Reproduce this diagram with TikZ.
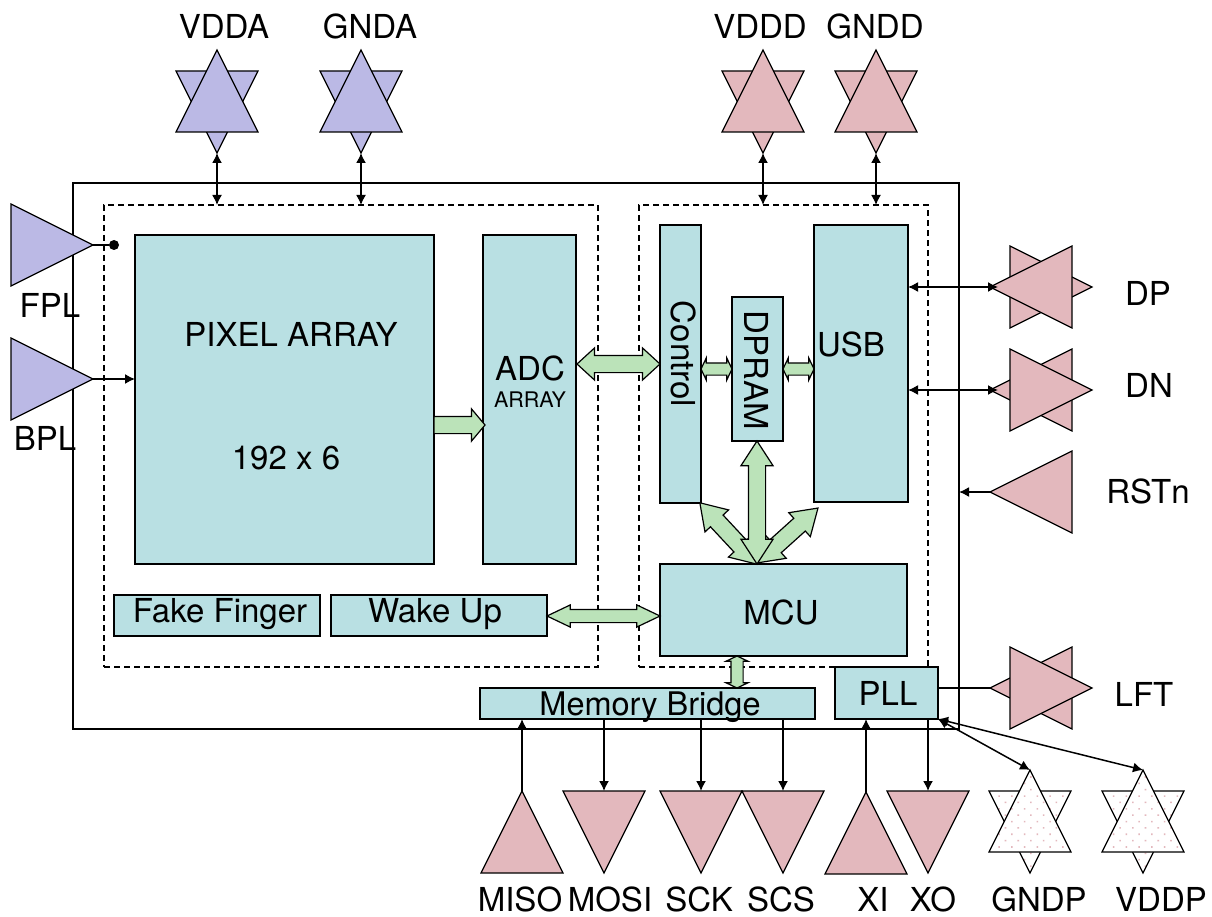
\documentclass[tikz,border=0pt]{standalone}
\usepackage{fontspec}
\setmainfont{TeX Gyre Heros}
\usetikzlibrary{arrows.meta, shapes.geometric, shapes.arrows, patterns.meta}
\definecolor{padblue}{HTML}{BBB9E5}
\definecolor{padpink}{HTML}{E3B8BD}
\definecolor{blockcyan}{HTML}{B9E0E3}
\definecolor{arrowgreen}{HTML}{BBE3B9}
\tikzset{
padup/.style={shape=isosceles triangle, isosceles triangle stretches, shape border rotate=90, minimum width=82, minimum height=82, inner sep=0, outer sep=0, draw, line width=1.2pt},
paddown/.style={padup, shape border rotate=270},
padleft/.style={padup, shape border rotate=180},
padright/.style={padup, shape border rotate=0},
dotted pad/.style={preaction={fill=white}, pattern={Dots[distance=9pt, radius=1.1pt, angle=45]}, pattern color=padpink},
block/.style={draw, fill=blockcyan, line width=1.2pt, anchor=north west, inner sep=0, outer sep=0},
dashbox/.style={draw, dash pattern=on 6pt off 4pt, line width=1.1pt, anchor=north west, inner sep=0, outer sep=0},
blockarrow/.style={shape=double arrow, draw, fill=arrowgreen, line width=1.2pt, inner xsep=0, outer sep=0},
bigarrow/.style={blockarrow, double arrow head extend=7.5, double arrow tip angle=66, inner ysep=8},
tinyarrow/.style={blockarrow, double arrow head extend=5, double arrow tip angle=129, inner ysep=5.5},
bigtext/.style={font=\fontsize{33}{33}\selectfont, inner sep=0},
thinline/.style={line width=1.5pt},
both/.style={thinline, {Latex[length=10pt,width=10pt]}-{Latex[length=10pt,width=10pt]}},
tohead/.style={thinline, -{Latex[length=10pt,width=10pt]}}
}
\begin{document}
\begin{tikzpicture}[x=1pt, y=-1pt]
\useasboundingbox (0,0) rectangle (1212,917);
% outer chip and the two dashed domains
\node[dashbox, solid, minimum width=886, minimum height=546] (chip) at (73,183) {};
\node[dashbox, minimum width=494, minimum height=462] (analog) at (104,205) {};
\node[dashbox, minimum width=289, minimum height=462] (digital) at (639,205) {};
% blocks
\node[block, minimum width=299, minimum height=329] (pixel) at (135,235) {};
\node[block, minimum width=93, minimum height=329] (adc) at (483,235) {};
\node[block, minimum width=206, minimum height=41] (fake) at (114,595) {};
\node[block, minimum width=216, minimum height=41] (wake) at (331,595) {};
\node[block, minimum width=41, minimum height=278] (control) at (660,225) {};
\node[block, minimum width=51, minimum height=144] (dpram) at (732,297) {};
\node[block, minimum width=94, minimum height=277] (usb) at (814,225) {};
\node[block, minimum width=247, minimum height=92] (mcu) at (660,564) {};
\node[block, minimum width=335, minimum height=31] (bridge) at (480,688) {};
\node[block, minimum width=103, minimum height=52] (pll) at (835,667) {};
% block texts
\node[bigtext] (pixeltxt) at (291,334) {PIXEL ARRAY};
\node[bigtext] (sizetxt) at (286,458) {192 x 6};
\node[bigtext] (adctxt) at (530,368) {ADC};
\node[inner sep=0, font=\fontsize{21.5}{22}\selectfont] (arraytxt) at (530,400) {ARRAY};
\node[bigtext] (faketxt) at (220,614) {Fake Finger};
\node[bigtext] (waketxt) at (435,614) {Wake Up};
\node[bigtext, rotate=-90] (controltxt) at (684,354) {Control};
\node[bigtext, rotate=-90] (dpramtxt) at (757,370) {DPRAM};
\node[bigtext] (usbtxt) at (851,344) {USB};
\node[bigtext] (mcutxt) at (781,612) {MCU};
\node[bigtext, font=\fontsize{32.5}{33}\selectfont] (bridgetxt) at (650,707) {Memory Bridge};
\node[bigtext] (plltxt) at (888,693) {PLL};
% wide arrows
\node[blockarrow, shape=single arrow, single arrow head extend=7.5, single arrow tip angle=100, inner ysep=8, minimum height=51, anchor=tip] (pixeladc) at (485,425) {};
\node[bigarrow, double arrow tip angle=85, minimum height=83] (adcctl) at (618.5,364) {};
\node[tinyarrow, minimum height=31] (ctldpr) at (716.5,369) {};
\node[tinyarrow, minimum height=31] (dprusb) at (798.5,369) {};
\node[bigarrow, minimum height=84, rotate=-47] (mcuctl) at (728.5,533.5) {};
\node[bigarrow, minimum height=82, rotate=42] (mcuusb) at (787.5,535.5) {};
\node[bigarrow, minimum height=123, rotate=90] (mcudpr) at (757,502.5) {};
\node[blockarrow, double arrow head extend=4.5, double arrow tip angle=51, inner ysep=6, minimum height=113] (wakemcu) at (603.5,616) {};
\node[tinyarrow, minimum height=32, rotate=90] (mcubrg) at (737,672) {};
% pads on the top side
\foreach \name/\x/\col in {vdda/217/padblue, gnda/361/padblue, vddd/763/padpink, gndd/876/padpink} {
\node[paddown, fill=\col, anchor=apex] (\name d) at (\x,153) {};
\node[padup, fill=\col, anchor=apex] (\name u) at (\x,50) {};
\draw[both] (\name d.apex) -- (\name d.apex |- digital.north);
}
% pads on the left side
\node[padright, fill=padblue, anchor=apex] (fpl) at (93,245) {};
\node[padright, fill=padblue, anchor=apex] (bpl) at (93,379) {};
\node[circle, fill=black, inner sep=0, minimum size=10] (fpldot) at (114,245) {};
\draw[thinline] (fpl.apex) -- (fpldot);
\draw[tohead] (bpl.apex) -- (bpl.apex -| pixel.west);
% pads on the right side
\node[padright, fill=padpink, anchor=apex] (dpr) at (1092,287) {};
\node[padleft, fill=padpink, anchor=apex] (dpl) at (990,287) {};
\node[padleft, fill=padpink, anchor=apex] (dnl) at (990,390) {};
\node[padright, fill=padpink, anchor=apex] (dnr) at (1092,390) {};
\node[padleft, fill=padpink, anchor=apex] (rst) at (990,492) {};
\node[padleft, fill=padpink, anchor=apex] (lftl) at (990,688) {};
\node[padright, fill=padpink, anchor=apex] (lftr) at (1092,688) {};
\coordinate (dpend) at (998,287);
\coordinate (dnend) at (998,390);
\draw[both] (dpend -| usb.east) -- (dpend);
\draw[both] (dnend -| usb.east) -- (dnend);
\draw[tohead] (rst.apex) -- (rst.apex -| chip.east);
\draw[thinline] (lftl.apex -| pll.east) -- (lftl.apex);
% pads on the bottom side
\node[padup, fill=padpink, anchor=apex] (miso) at (522,791) {};
\node[padup, fill=padpink, anchor=apex] (xi) at (866,792) {};
\foreach \name/\x in {mosi/604, sck/701, scs/783, xo/928} {
\node[paddown, fill=padpink, anchor=apex] (\name) at (\x,873) {};
}
\draw[tohead] (miso.apex) -- (miso.apex |- bridge.south);
\draw[tohead] (xi.apex) -- (xi.apex |- pll.south);
\draw[tohead] (mosi.north |- bridge.south) -- (mosi.north);
\draw[tohead] (sck.north |- bridge.south) -- (sck.north);
\draw[tohead] (scs.north |- bridge.south) -- (scs.north);
\draw[tohead] (xo.north |- pll.south) -- (xo.north);
\foreach \name/\x in {gndp/1030, vddp/1143} {
\node[paddown, dotted pad, anchor=apex] (\name d) at (\x,873) {};
\node[padup, dotted pad, anchor=apex] (\name u) at (\x,770) {};
\draw[both] (pll.south east) -- (\name u.apex);
}
% pad names
\foreach \lab/\x/\y in {VDDA/224/26, GNDA/370/26, VDDD/760/26, GNDD/875/26, FPL/50/305, BPL/45/438, DP/1148/293, DN/1149/385, RSTn/1148/491, LFT/1144/694, MISO/520/899, MOSI/610/899, SCK/699/899, SCS/781/899, XI/873/899, XO/933/899, GNDP/1039/899, VDDP/1161/899} {
\node[bigtext] (\lab) at (\x,\y) {\lab};
}
\end{tikzpicture}
\end{document}
